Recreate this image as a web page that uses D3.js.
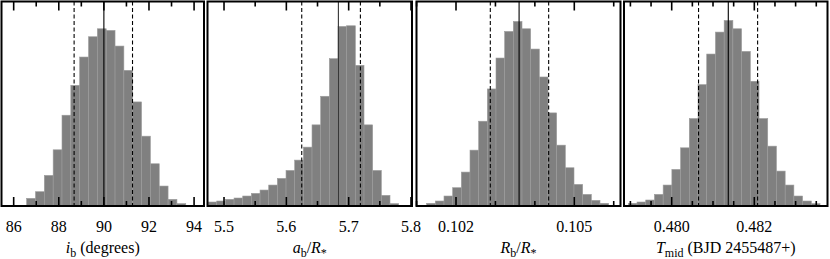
<!DOCTYPE html>
<html>
<head>
<meta charset="utf-8">
<script src="https://cdn.jsdelivr.net/npm/d3@7"></script>
<style>
  body { margin: 0; background: #fff; }
  svg { display: block; }
</style>
</head>
<body>
<svg id="chart" width="830" height="259"></svg>
<script>
// histogram heights (arbitrary count units)
const incCounts = [23, 43, 92, 169, 273, 363, 448, 509, 533, 528, 481, 408, 313, 210, 127, 60, 20, 7];
const incBins = { start: 86.575, width: 0.392 };
const incLines = { mid: 90.0, lo: 88.68, hi: 91.27 };
const incTicks = [86, 88, 90, 92, 94];
const incMinor = [87, 89, 91, 93];

const aCounts = [12, 15, 20, 24, 30, 38, 48, 63, 83, 107, 138, 177, 244, 330, 443, 540, 542, 423, 244, 107, 32, 7];
const aBins = { start: 5.4744, width: 0.0139 };
const aLines = { mid: 5.6835, lo: 5.6247, hi: 5.7188 };
const aTicks = [5.5, 5.6, 5.7, 5.8];
const aMinor = [5.55, 5.65, 5.75];

const rCounts = [8, 15, 30, 55, 102, 168, 255, 352, 445, 525, 555, 533, 472, 388, 280, 183, 115, 65, 35, 17, 8];
const rBins = { start: 0.101256, width: 0.0002198 };
const rLines = { mid: 0.1036, lo: 0.10287, hi: 0.10435 };
const rTicks = [0.102, 0.105];
const rMinor = [0.101, 0.103, 0.104, 0.106];

const tCounts = [8, 12, 18, 35, 63, 110, 175, 263, 365, 457, 523, 558, 533, 465, 375, 263, 180, 105, 63, 30, 15, 7];
const tBins = { start: 0.478949, width: 0.000211 };
const tLines = { mid: 0.48137, lo: 0.48065, hi: 0.48208 };
const tTicks = [0.480, 0.482];
const tMinor = [0.479, 0.4795, 0.4805, 0.481, 0.4815, 0.4825, 0.483, 0.4835];

const serif = "'Liberation Serif', 'Times New Roman', serif";

const panels = [
  { x0: 1.5, x1: 204, domain: [85.46, 94.44], counts: incCounts, bins: incBins, lines: incLines,
    ticks: incTicks, minor: incMinor, fmt: d3.format("d"), label: "inc" },
  { x0: 207.5, x1: 412, domain: [5.4735, 5.8016], counts: aCounts, bins: aBins, lines: aLines,
    ticks: aTicks, minor: aMinor, fmt: d3.format(".1f"), label: "a" },
  { x0: 416.5, x1: 620.5, domain: [0.100998, 0.106172], counts: rCounts, bins: rBins, lines: rLines,
    ticks: rTicks, minor: rMinor, fmt: d3.format(".3f"), label: "r" },
  { x0: 624, x1: 827.5, domain: [0.478845, 0.483772], counts: tCounts, bins: tBins, lines: tLines,
    ticks: tTicks, minor: tMinor, fmt: d3.format(".3f"), label: "t" }
];

const plotTop = 1.5, plotBottom = 206;
const yMax = 615;
const svg = d3.select("#chart");
const y = d3.scaleLinear().domain([0, yMax]).range([plotBottom, plotTop]);

panels.forEach((p, i) => {
  const x = d3.scaleLinear().domain(p.domain).range([p.x0, p.x1]);
  const g = svg.append("g");

  svg.append("defs").append("clipPath").attr("id", "clip" + i)
    .append("rect").attr("x", p.x0).attr("y", plotTop).attr("width", p.x1 - p.x0).attr("height", plotBottom - plotTop);

  const plot = g.append("g").attr("clip-path", `url(#clip${i})`);
  plot.selectAll("rect")
    .data(p.counts)
    .join("rect")
    .attr("x", (d, k) => x(p.bins.start + k * p.bins.width))
    .attr("width", (d, k) => x(p.bins.start + (k + 1) * p.bins.width) - x(p.bins.start + k * p.bins.width))
    .attr("y", d => y(d))
    .attr("height", d => plotBottom - y(d))
    .attr("fill", "#808080")
    .attr("stroke", "#9c9c9c")
    .attr("stroke-width", 0.6);

  plot.append("line")
    .attr("x1", x(p.lines.mid)).attr("x2", x(p.lines.mid))
    .attr("y1", plotTop).attr("y2", plotBottom)
    .attr("stroke", i === 1 ? "#333" : "#000").attr("stroke-width", 1.1);
  [p.lines.lo, p.lines.hi].forEach(v => {
    plot.append("line")
      .attr("x1", x(v)).attr("x2", x(v))
      .attr("y1", plotTop).attr("y2", plotBottom)
      .attr("stroke", "#000").attr("stroke-width", 1.1)
      .attr("stroke-dasharray", "4,2.5");
  });

  // inward ticks, top and bottom
  const tickG = g.append("g").attr("stroke", "#000").attr("stroke-width", 1.6);
  p.ticks.forEach(v => {
    tickG.append("line").attr("x1", x(v)).attr("x2", x(v)).attr("y1", plotBottom).attr("y2", plotBottom - 9);
    tickG.append("line").attr("x1", x(v)).attr("x2", x(v)).attr("y1", plotTop).attr("y2", plotTop + 9);
  });
  p.minor.forEach(v => {
    tickG.append("line").attr("x1", x(v)).attr("x2", x(v)).attr("y1", plotBottom).attr("y2", plotBottom - 5);
    tickG.append("line").attr("x1", x(v)).attr("x2", x(v)).attr("y1", plotTop).attr("y2", plotTop + 5);
  });

  g.append("rect")
    .attr("x", p.x0).attr("y", plotTop)
    .attr("width", p.x1 - p.x0).attr("height", plotBottom - plotTop)
    .attr("fill", "none").attr("stroke", "#000").attr("stroke-width", 2);

  g.selectAll(".tl")
    .data(p.ticks)
    .join("text")
    .attr("class", "tl")
    .attr("x", d => x(d))
    .attr("y", 232)
    .attr("text-anchor", "middle")
    .attr("font-family", serif)
    .attr("font-size", 16)
    .attr("fill", "#000")
    .text(d => p.fmt(d));

  const t = g.append("text")
    .attr("x", (p.x0 + p.x1) / 2)
    .attr("y", 253)
    .attr("text-anchor", "middle")
    .attr("font-family", serif)
    .attr("font-size", 16)
    .attr("fill", "#000");
  if (p.label === "inc") {
    t.append("tspan").style("font-style", "italic").text("i");
    t.append("tspan").attr("dy", 4).style("font-size", "12px").text("b");
    t.append("tspan").attr("dy", -4).text(" (degrees)");
  } else if (p.label === "a" || p.label === "r") {
    t.append("tspan").style("font-style", "italic").text(p.label === "a" ? "a" : "R");
    t.append("tspan").attr("dy", 4).style("font-size", "12px").text("b");
    t.append("tspan").attr("dy", -4).text("/");
    t.append("tspan").style("font-style", "italic").text("R");
    t.append("tspan").attr("dy", 4).style("font-size", "12px").text("*");
  } else {
    t.append("tspan").style("font-style", "italic").text("T");
    t.append("tspan").attr("dy", 4).style("font-size", "12px").text("mid");
    t.append("tspan").attr("dy", -4).text(" (BJD 2455487+)");
  }
});
</script>
</body>
</html>
